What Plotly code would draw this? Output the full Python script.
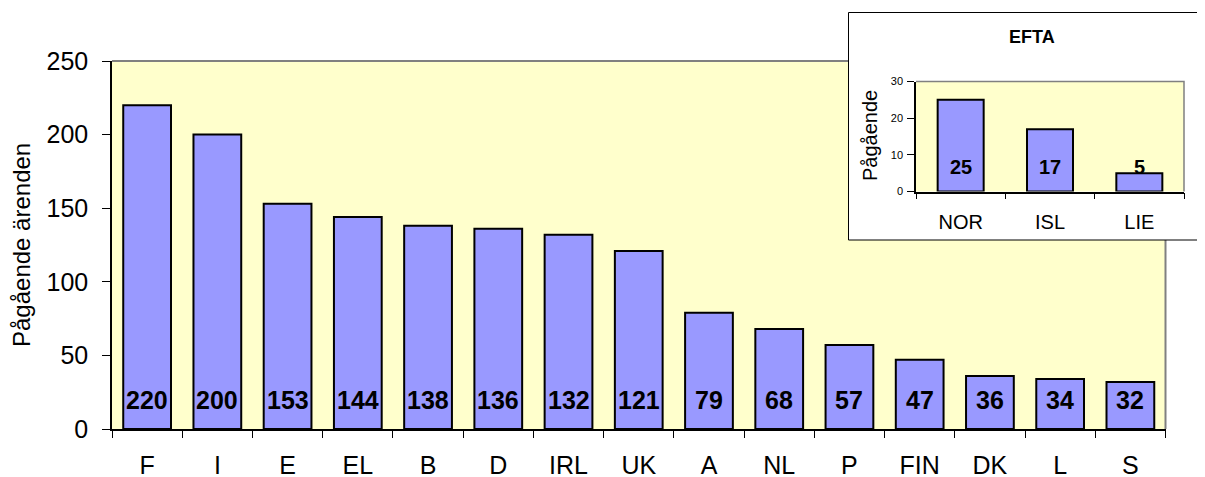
import plotly.graph_objects as go

# ---- data ----
eu_countries = ["F", "I", "E", "EL", "B", "D", "IRL", "UK", "A", "NL", "P", "FIN", "DK", "L", "S"]
eu_values = [220, 200, 153, 144, 138, 136, 132, 121, 79, 68, 57, 47, 36, 34, 32]
efta_countries = ["NOR", "ISL", "LIE"]
efta_values = [25, 17, 5]
main_y_ticks = [0, 50, 100, 150, 200, 250]
inset_y_ticks = [0, 10, 20, 30]

# page has an 8px body margin, so the figure is drawn 8px right/down
OFF = 8
W, H = 1205 - OFF, 477 - OFF
FONT = "Liberation Sans, Arial, sans-serif"
BAR = "#9999FF"
BG = "#FFFFCC"


def px(x):
    return (x - OFF) / W


def py(y):
    return (H - (y - OFF)) / H


fig = go.Figure()

fig.add_trace(go.Bar(
    x=eu_countries, y=eu_values, xaxis="x", yaxis="y",
    marker=dict(color=BAR, line=dict(color="black", width=2)),
    width=0.68, hoverinfo="x+y", showlegend=False,
))
fig.add_trace(go.Bar(
    x=efta_countries, y=efta_values, xaxis="x2", yaxis="y2",
    marker=dict(color=BAR, line=dict(color="black", width=2)),
    width=0.515, hoverinfo="x+y", showlegend=False,
))

annotations = []
for c, v in zip(eu_countries, eu_values):
    annotations.append(dict(
        x=c, y=0, xref="x", yref="y", text=f"<b>{v}</b>", showarrow=False,
        yanchor="middle", yshift=29, font=dict(family=FONT, size=25, color="black"),
    ))
for c, v in zip(efta_countries, efta_values):
    annotations.append(dict(
        x=c, y=0, xref="x2", yref="y2", text=f"<b>{v}</b>", showarrow=False,
        yanchor="middle", yshift=25, font=dict(family=FONT, size=20, color="black"),
    ))
annotations.append(dict(
    x=px(22), y=py(245), xref="paper", yref="paper", text="Pågående ärenden",
    textangle=-90, showarrow=False, xanchor="center", yanchor="middle",
    font=dict(family=FONT, size=24, color="black"),
))
annotations.append(dict(
    x=px(870), y=py(136), xref="paper", yref="paper", text="Pågående",
    textangle=-90, showarrow=False, xanchor="center", yanchor="middle",
    font=dict(family=FONT, size=20, color="black"),
))
annotations.append(dict(
    x=px(1032), y=py(37), xref="paper", yref="paper", text="<b>EFTA</b>",
    showarrow=False, xanchor="center", yanchor="middle",
    font=dict(family=FONT, size=18, color="black"),
))

shapes = [
    # main plot background
    dict(type="rect", xref="x domain", yref="y domain", x0=0, x1=1, y0=0, y1=1,
         fillcolor=BG, line=dict(width=0), layer="below"),
    # main plot top/right border
    dict(type="path", xref="paper", yref="paper",
         path=f"M {px(112)} {py(61)} L {px(1165.5)} {py(61)} L {px(1165.5)} {py(429)}",
         line=dict(color="#808080", width=2), layer="below"),
    # inset white box
    dict(type="rect", xref="paper", yref="paper", x0=px(848.5), x1=px(1204.5),
         y0=py(240), y1=py(12.5), fillcolor="white",
         line=dict(color="black", width=1), layer="below"),
    # inset plot background
    dict(type="rect", xref="x2 domain", yref="y2 domain", x0=0, x1=1, y0=0, y1=1,
         fillcolor=BG, line=dict(width=0), layer="below"),
    dict(type="path", xref="paper", yref="paper",
         path=f"M {px(916)} {py(81.5)} L {px(1184)} {py(81.5)} L {px(1184)} {py(191.5)}",
         line=dict(color="#808080", width=1.5), layer="below"),
]

fig.update_layout(
    width=W, height=H,
    margin=dict(l=0, r=0, t=0, b=0, autoexpand=False),
    paper_bgcolor="white",
    plot_bgcolor="rgba(0,0,0,0)",
    bargap=0.3,
    font=dict(family=FONT, color="black"),
    annotations=annotations,
    shapes=shapes,
    xaxis=dict(
        domain=[px(112), px(1165.5)], anchor="y",
        type="category", categoryorder="array", categoryarray=eu_countries,
        showline=True, linecolor="black", linewidth=1.5,
        ticks="outside", tickson="boundaries", ticklen=7, tickcolor="black",
        tickfont=dict(family=FONT, size=25, color="black"),
        ticklabelstandoff=13, automargin=False,
        showgrid=False, zeroline=False, fixedrange=True,
    ),
    yaxis=dict(
        domain=[py(429), py(61)], anchor="x",
        range=[0, 250], tickvals=main_y_ticks,
        showline=True, linecolor="black", linewidth=1.5,
        ticks="outside", ticklen=8, tickcolor="black",
        tickfont=dict(family=FONT, size=25, color="black"),
        ticklabelstandoff=9, automargin=False,
        showgrid=False, zeroline=False, fixedrange=True,
    ),
    xaxis2=dict(
        domain=[px(916), px(1184)], anchor="y2",
        type="category", categoryorder="array", categoryarray=efta_countries,
        showline=True, linecolor="black", linewidth=1.5,
        ticks="outside", tickson="boundaries", ticklen=6, tickcolor="black",
        tickfont=dict(family=FONT, size=20, color="black"),
        ticklabelstandoff=12, automargin=False,
        showgrid=False, zeroline=False, fixedrange=True,
    ),
    yaxis2=dict(
        domain=[py(191.5), py(81.5)], anchor="x2",
        range=[0, 30], tickvals=inset_y_ticks,
        showline=True, linecolor="black", linewidth=1.5,
        ticks="outside", ticklen=7, tickcolor="black",
        tickfont=dict(family=FONT, size=11, color="black"),
        ticklabelstandoff=2, automargin=False,
        showgrid=False, zeroline=False, fixedrange=True,
    ),
)

fig.write_html("out.html")
